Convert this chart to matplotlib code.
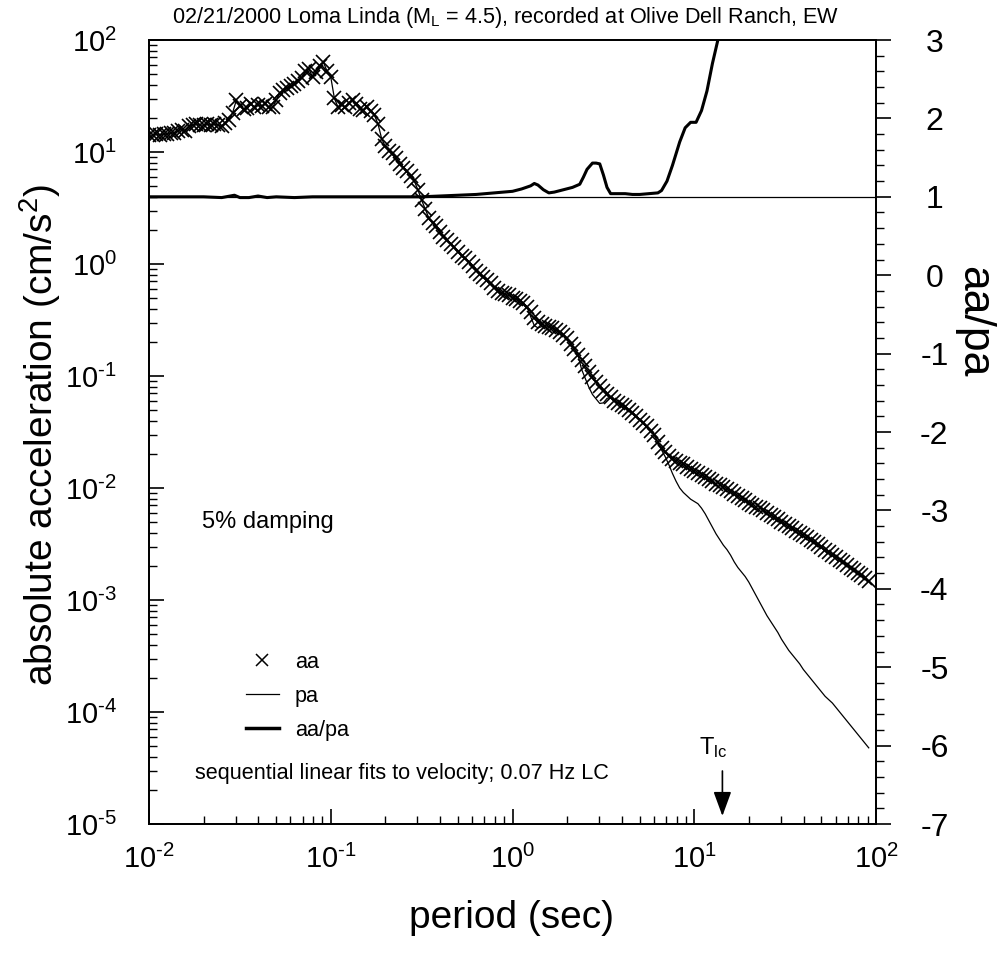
import numpy as np
import matplotlib
matplotlib.use("Agg")
import matplotlib.pyplot as plt
from matplotlib.lines import Line2D
from matplotlib.ticker import (LogLocator, FixedLocator, MultipleLocator, NullFormatter,
                               FuncFormatter)

plt.rcParams['font.family'] = ['Liberation Sans', 'DejaVu Sans']
plt.rcParams['mathtext.fontset'] = 'custom'
plt.rcParams['mathtext.rm'] = 'Liberation Sans'
plt.rcParams['mathtext.it'] = 'Liberation Sans:italic'
plt.rcParams['axes.unicode_minus'] = False

# periods: log-spaced grid, 50 per decade, 0.01 s to ~90 s
log_period = np.round(np.arange(-2.0, 1.961, 0.02), 2)

# absolute acceleration aa (log10 cm/s^2), one value per period
aa_log = [
    1.15, 1.15, 1.16, 1.15, 1.16, 1.16, 1.17, 1.17, 1.19, 1.20,
    1.19, 1.23, 1.24, 1.25, 1.24, 1.24, 1.25, 1.24, 1.25, 1.24,
    1.23, 1.26, 1.29, 1.35, 1.46, 1.41, 1.38, 1.39, 1.43, 1.40,
    1.42, 1.41, 1.43, 1.40, 1.40, 1.46, 1.53, 1.55, 1.57, 1.59,
    1.61, 1.63, 1.66, 1.72, 1.74, 1.67, 1.71, 1.77, 1.80, 1.72,
    1.67, 1.48, 1.40, 1.42, 1.40, 1.44, 1.46, 1.43, 1.38, 1.375,
    1.40, 1.37, 1.33, 1.25, 1.12, 1.05, 1.01, 0.99, 0.95, 0.89,
    0.86, 0.83, 0.79, 0.74, 0.66, 0.57, 0.49, 0.41, 0.37, 0.34,
    0.29, 0.24, 0.21, 0.18, 0.15, 0.11, 0.07, 0.05, 0.02, -0.02,
    -0.06, -0.09, -0.12, -0.14, -0.17, -0.21, -0.24, -0.26, -0.27, -0.28,
    -0.30, -0.31, -0.33, -0.35, -0.38, -0.43, -0.48, -0.52, -0.54, -0.55,
    -0.56, -0.57, -0.59, -0.61, -0.63, -0.66, -0.71, -0.76, -0.81, -0.86,
    -0.91, -0.96, -1.01, -1.05, -1.09, -1.13, -1.16, -1.19, -1.22, -1.24,
    -1.26, -1.28, -1.30, -1.33, -1.36, -1.39, -1.42, -1.45, -1.49, -1.53,
    -1.59, -1.64, -1.68, -1.71, -1.74, -1.76, -1.78, -1.79, -1.81, -1.83,
    -1.85, -1.87, -1.88, -1.90, -1.92, -1.94, -1.96, -1.97, -1.99, -2.01,
    -2.03, -2.05, -2.07, -2.09, -2.11, -2.13, -2.15, -2.17, -2.18, -2.20,
    -2.22, -2.24, -2.26, -2.28, -2.30, -2.32, -2.34, -2.36, -2.38, -2.40,
    -2.42, -2.44, -2.46, -2.48, -2.50, -2.53, -2.55, -2.57, -2.60, -2.62,
    -2.64, -2.66, -2.69, -2.71, -2.73, -2.76, -2.78, -2.80, -2.83,
]

# pseudo acceleration pa equals aa except at these periods (log10 values)
pa_diff_logT = [
    0.10, 0.12, 0.14, 0.16,
    0.38, 0.40, 0.42, 0.44, 0.46, 0.48, 0.50, 0.52,
    0.82, 0.84, 0.86, 0.88, 0.90, 0.92, 0.94, 0.96, 0.98, 1.00,
    1.02, 1.04, 1.06, 1.08, 1.10, 1.12, 1.14, 1.16, 1.18, 1.20,
    1.22, 1.24, 1.26, 1.28, 1.30, 1.32, 1.34, 1.36, 1.38, 1.40,
    1.42, 1.44, 1.46, 1.48, 1.50, 1.52, 1.54, 1.56, 1.58, 1.60,
    1.62, 1.64, 1.66, 1.68, 1.70, 1.72, 1.74, 1.76, 1.78, 1.80,
    1.82, 1.84, 1.86, 1.88, 1.90, 1.92, 1.94, 1.96,
]
pa_diff_log = [
    -0.47, -0.55, -0.57, -0.56,
    -0.94, -1.02, -1.10, -1.165, -1.205, -1.245, -1.24, -1.20,
    -1.66, -1.72, -1.79, -1.87, -1.94, -2.00, -2.04, -2.07, -2.10, -2.12,
    -2.14, -2.18, -2.23, -2.29, -2.35, -2.41, -2.46, -2.51, -2.55, -2.60,
    -2.66, -2.71, -2.75, -2.79, -2.84, -2.90, -2.96, -3.02, -3.08, -3.14,
    -3.19, -3.24, -3.29, -3.35, -3.40, -3.45, -3.49, -3.53, -3.57, -3.62,
    -3.66, -3.70, -3.74, -3.78, -3.82, -3.86, -3.89, -3.92, -3.96, -4.00,
    -4.04, -4.08, -4.12, -4.16, -4.20, -4.24, -4.28, -4.32,
]

# ratio aa/pa (right axis)
ratio_logT = [
    -2.00, -1.90, -1.80, -1.70, -1.60, -1.53, -1.50, -1.45, -1.40, -1.35,
    -1.30, -1.20, -1.10, -1.00, -0.90, -0.80, -0.70, -0.60, -0.50, -0.40,
    -0.30, -0.20, -0.10, 0.00, 0.05, 0.10, 0.12, 0.14, 0.17, 0.20,
    0.23, 0.28, 0.33, 0.37, 0.39, 0.41, 0.44, 0.46, 0.48, 0.50,
    0.52, 0.54, 0.58, 0.62, 0.66, 0.70, 0.75, 0.80, 0.82, 0.85,
    0.88, 0.92, 0.95, 0.98, 1.01, 1.04, 1.07, 1.10, 1.13, 1.16,
    1.20, 1.30, 1.50, 1.70, 1.96,
]
ratio = [
    1.00, 1.00, 1.00, 1.00, 0.99, 1.02, 0.99, 0.99, 1.01, 0.99,
    1.00, 0.99, 1.00, 1.00, 1.00, 1.00, 1.00, 1.00, 1.00, 1.01,
    1.02, 1.03, 1.05, 1.07, 1.10, 1.14, 1.17, 1.15, 1.09, 1.05,
    1.06, 1.09, 1.12, 1.16, 1.25, 1.35, 1.43, 1.43, 1.42, 1.28,
    1.12, 1.04, 1.04, 1.04, 1.03, 1.03, 1.04, 1.05, 1.08, 1.20,
    1.40, 1.70, 1.88, 1.95, 1.95, 2.10, 2.35, 2.70, 3.00, 3.35,
    3.9, 5.0, 11.0, 19.0, 30.0,
]

f_lc = 0.07  # Hz

period = 10.0 ** log_period
aa = 10.0 ** np.array(aa_log)
pa_log = np.array(aa_log, dtype=float)
for t, v in zip(pa_diff_logT, pa_diff_log):
    pa_log[np.argmin(np.abs(log_period - t))] = v
pa = 10.0 ** pa_log
ratio_period = 10.0 ** np.array(ratio_logT)


def pow10_label(v, pos):
    e = int(round(np.log10(v)))
    return r'$10^{\text{%d}}$' % e


fig = plt.figure(figsize=(10.02, 9.65), dpi=100)
ax = fig.add_axes([149 / 1002, 1 - 824 / 965, 727 / 1002, 784 / 965])
ax2 = ax.twinx()

ax.plot(period, aa, linestyle='none', marker='x', ms=9.5, mew=1.2, color='black')
ax.plot(period, pa, color='black', lw=0.9)
ax2.plot(ratio_period, ratio, color='black', lw=2.2)
ax2.axhline(1.0, color='black', lw=0.9)

ax.set_xscale('log')
ax.set_yscale('log')
ax.set_xlim(0.01, 100)
ax.set_ylim(1e-5, 1e2)
ax2.set_ylim(-7, 3)

ax.xaxis.set_major_locator(LogLocator(base=10, numticks=10))
ax.xaxis.set_minor_locator(LogLocator(base=10, subs=np.arange(2, 10), numticks=20))
ax.yaxis.set_major_locator(LogLocator(base=10, numticks=10))
ax.yaxis.set_minor_locator(LogLocator(base=10, subs=np.arange(2, 10), numticks=20))
ax.xaxis.set_major_formatter(FuncFormatter(pow10_label))
ax.yaxis.set_major_formatter(FuncFormatter(pow10_label))
ax.xaxis.set_minor_formatter(NullFormatter())
ax.yaxis.set_minor_formatter(NullFormatter())

ax.tick_params(which='major', direction='in', length=11, width=1.2, labelsize=21,
               top=False, right=False)
ax.tick_params(which='minor', direction='in', length=6, width=1.0, top=False, right=False)
ax.tick_params(axis='x', pad=15)
ax.tick_params(axis='y', pad=23)

yt = np.arange(-7, 4)
ax2.yaxis.set_major_locator(FixedLocator(yt))
ax2.set_yticklabels([str(v) for v in yt])
ax2.yaxis.set_minor_locator(MultipleLocator(0.2))
ax2.tick_params(axis='y', which='major', direction='out', length=11, width=1.2,
                labelsize=23, pad=31)
ax2.tick_params(axis='y', which='minor', direction='out', length=6, width=1.0)
for lbl in ax2.get_yticklabels():
    lbl.set_ha('center')

for a in (ax, ax2):
    for s in a.spines.values():
        s.set_linewidth(1.3)

fig.text(505 / 1002, 1 - 18 / 965,
         r'02/21/2000 Loma Linda (M$_{\rm L}$ = 4.5), recorded at Olive Dell Ranch, EW',
         ha='center', va='center', fontsize=15.6)
fig.text(512 / 1002, 1 - 918 / 965, 'period (sec)', ha='center', va='center', fontsize=28)
fig.text(40 / 1002, 1 - 435 / 965, r'absolute acceleration (cm/s$^2$)', ha='center',
         va='center', rotation=90, fontsize=28)
fig.text(974 / 1002, 1 - 322 / 965, 'aa/pa', ha='center', va='center', rotation=-90,
         fontsize=32)

ax.text(202 / 1002, 1 - 522 / 965, '5% damping', transform=fig.transFigure,
        ha='left', va='center', fontsize=17)
ax.text(195 / 1002, 1 - 773 / 965, 'sequential linear fits to velocity; 0.07 Hz LC',
        transform=fig.transFigure, ha='left', va='center', fontsize=15.6)

t_lc = 1.0 / f_lc
ax.annotate('', xy=(t_lc, 8 / 784), xytext=(t_lc, 53 / 784),
            xycoords=('data', 'axes fraction'), textcoords=('data', 'axes fraction'),
            arrowprops=dict(arrowstyle='-|>,head_length=0.6,head_width=0.22',
                            mutation_scale=25, color='black', lw=1.2,
                            shrinkA=0, shrinkB=0))
ax.annotate(r'T$_{\rm lc}$', xy=(t_lc, 76 / 784), xycoords=('data', 'axes fraction'),
            xytext=(-7, 0), textcoords='offset points', ha='center', va='center',
            fontsize=17)

handles = [
    Line2D([], [], linestyle='none', marker='x', ms=9, mew=1.1, color='black'),
    Line2D([], [], color='black', lw=0.9),
    Line2D([], [], color='black', lw=2.5),
]
ax.legend(handles, ['aa', 'pa', 'aa/pa'], loc='upper left',
          bbox_to_anchor=(246 / 1002, 1 - 652 / 965), bbox_transform=fig.transFigure,
          frameon=False, fontsize=15.6, handlelength=1.5, handletextpad=0.75,
          labelspacing=0.6, borderpad=0, borderaxespad=0)

fig.savefig('out.png', dpi=100)
